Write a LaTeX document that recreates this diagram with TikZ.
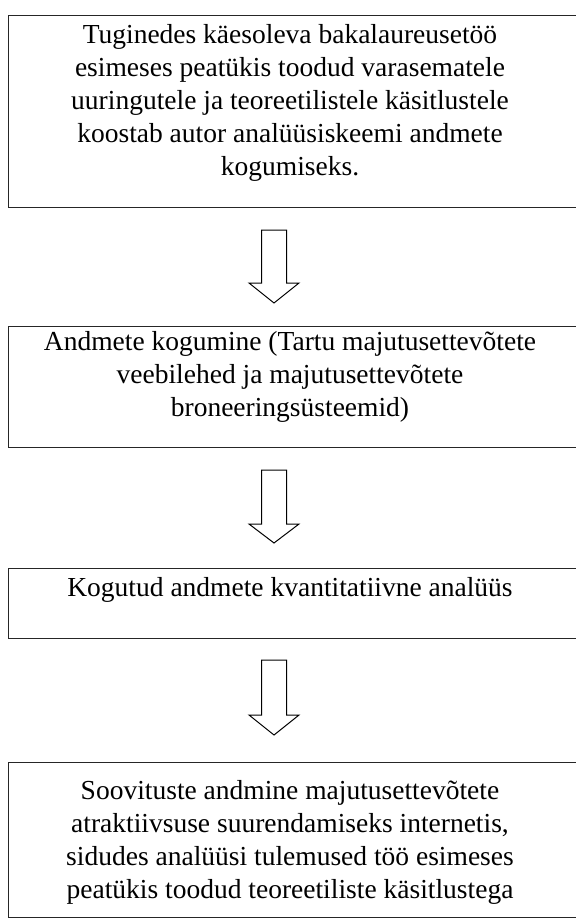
\documentclass[tikz,border=0pt]{standalone}
\usepackage{fontspec}
\setmainfont{Liberation Serif}
\begin{document}
\begin{tikzpicture}[x=1pt,y=-1pt]
\tikzset{
  boxline/.style={draw=black!85, line width=1.1pt, inner sep=0pt, anchor=north west},
  txt/.style={align=center, font=\fontsize{27.5}{33}\selectfont, inner sep=0pt, anchor=north},
  barrow/.style={draw=black, line width=1pt, fill=white, line join=miter}
}
\useasboundingbox (0,0) rectangle (576,919);
\fill[white] (0,0) rectangle (576,919);
% boxes
\node[boxline, minimum width=567.5pt, minimum height=192pt] (b1) at (8,15) {};
\node[boxline, minimum width=567.5pt, minimum height=121pt] (b2) at (8,326) {};
\node[boxline, minimum width=567.5pt, minimum height=70pt] (b3) at (8,568) {};
\node[boxline, minimum width=567.5pt, minimum height=155pt] (b4) at (8,762) {};
% texts
\node[txt] (t1) at (290,24) {Tuginedes käesoleva bakalaureusetöö\\esimeses peatükis toodud varasematele\\uuringutele ja teoreetilistele käsitlustele\\koostab autor analüüsiskeemi andmete\\kogumiseks.};
\node[txt] (t2) at (290,331) {Andmete kogumine (Tartu majutusettevõtete\\veebilehed ja majutusettevõtete\\broneeringsüsteemid)};
\node[txt] (t3) at (290,577) {Kogutud andmete kvantitatiivne analüüs};
\node[txt] (t4) at (290,780) {Soovituste andmine majutusettevõtete\\atraktiivsuse suurendamiseks internetis,\\sidudes analüüsi tulemused töö esimeses\\peatükis toodud teoreetiliste käsitlustega};
% block arrows
\newcommand\blockarrow[4]{%
  \draw[barrow] (#1-12.5,#2) -- (#1+12.5,#2) -- (#1+12.5,#3) -- (#1+25,#3) -- (#1,#4) -- (#1-25,#3) -- (#1-12.5,#3) -- cycle;}
\blockarrow{274}{230}{283}{303}
\blockarrow{274}{470}{524}{543}
\blockarrow{274}{660}{715}{735}
\end{tikzpicture}
\end{document}
